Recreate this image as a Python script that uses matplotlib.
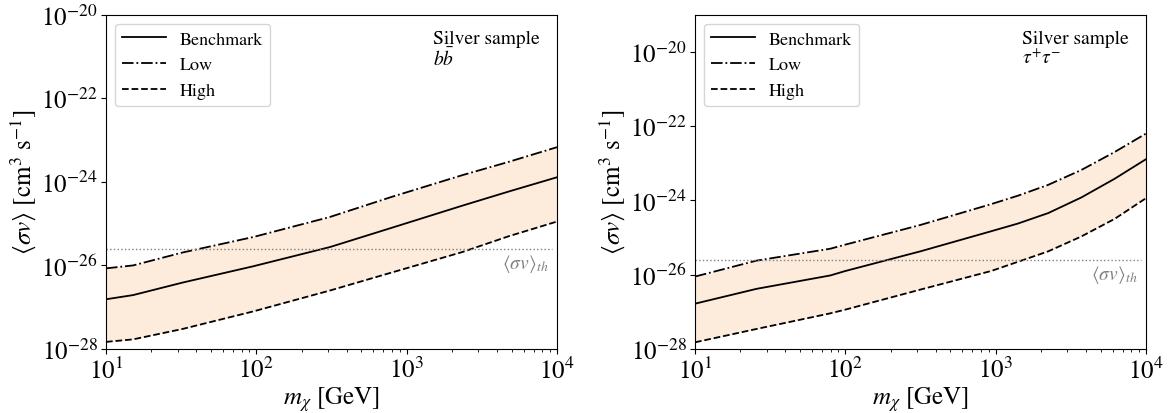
import numpy as np
import matplotlib
matplotlib.use('Agg')
import matplotlib.pyplot as plt
from matplotlib.ticker import NullLocator

plt.rcParams['font.family'] = 'serif'
plt.rcParams['font.serif'] = ['STIXGeneral', 'DejaVu Serif']
plt.rcParams['mathtext.fontset'] = 'stix'

# log10 of mass [GeV] and log10 of <sigma v> [cm^3 s^-1]
bb_logm = [1.0, 1.18, 1.51, 1.98, 2.49, 2.90, 3.37, 3.68, 4.0]
bb_bench = [-26.81, -26.71, -26.41, -26.02, -25.56, -25.10, -24.57, -24.23, -23.89]
bb_low = [-26.07, -26.00, -25.69, -25.32, -24.84, -24.36, -23.84, -23.52, -23.17]
bb_high = [-27.83, -27.77, -27.52, -27.10, -26.60, -26.17, -25.68, -25.30, -24.95]

tt_logm = [1.0, 1.41, 1.9, 2.0, 2.5, 2.97, 3.15, 3.35, 3.57, 3.79, 4.0]
tt_bench = [-26.78, -26.38, -26.02, -25.90, -25.37, -24.83, -24.62, -24.34, -23.92, -23.42, -22.89]
tt_low = [-26.05, -25.62, -25.30, -25.19, -24.66, -24.10, -23.87, -23.58, -23.18, -22.70, -22.20]
tt_high = [-27.82, -27.46, -27.04, -26.94, -26.40, -25.90, -25.65, -25.37, -24.97, -24.50, -23.94]

sv_th = 2.45e-26
th_mass = [10, 9300]
ytick_exp = [-28, -26, -24, -22, -20]

panels = [
    (bb_logm, bb_bench, bb_low, bb_high, r'$b\bar{b}$', (1e-28, 1e-20)),
    (tt_logm, tt_bench, tt_low, tt_high, r'$\tau^{+}\tau^{-}$', (1e-28, 1e-19)),
]

fig, axes = plt.subplots(1, 2, figsize=(11.75, 4.14), dpi=100)
fig.subplots_adjust(left=0.0902, right=0.9753, bottom=0.1546, top=0.962, wspace=0.306)
fill_color = '#fdebdc'

for ax, (lm, bench, low, high, chan, ylim) in zip(axes, panels):
    m = 10 ** np.array(lm)
    ax.fill_between(m, 10 ** np.array(low), 10 ** np.array(high), color=fill_color, lw=0)
    ax.plot(m, 10 ** np.array(bench), 'k-', lw=1.3, label='Benchmark')
    ax.plot(m, 10 ** np.array(low), 'k-.', lw=1.3, label='Low')
    ax.plot(m, 10 ** np.array(high), 'k--', lw=1.3, label='High')
    ax.plot(th_mass, [sv_th, sv_th], ':', color='gray', lw=1.0)
    ax.text(8800, sv_th * 0.85, r'$\langle\sigma v\rangle_{th}$', color='gray',
            ha='right', va='top', fontsize=14)
    ax.set_xscale('log')
    ax.set_yscale('log')
    ax.set_xlim(10, 1e4)
    ax.set_ylim(*ylim)
    ax.set_yticks([10.0 ** e for e in ytick_exp])
    ax.yaxis.set_minor_locator(NullLocator())
    ax.set_ylim(*ylim)
    ax.tick_params(labelsize=18, pad=2.5)
    ax.set_xlabel(r'$m_{\chi}$ [GeV]', fontsize=18, labelpad=0.5)
    ax.set_ylabel(r'$\langle\sigma v\rangle$ [cm$^3$ s$^{-1}$]', fontsize=18, labelpad=2)
    ax.legend(loc='upper left', fontsize=13, handlelength=2.4)
    ax.text(0.725, 0.955, 'Silver sample\n' + chan, transform=ax.transAxes,
            ha='left', va='top', fontsize=14, linespacing=1.0)

plt.savefig('out.png', dpi=100)
